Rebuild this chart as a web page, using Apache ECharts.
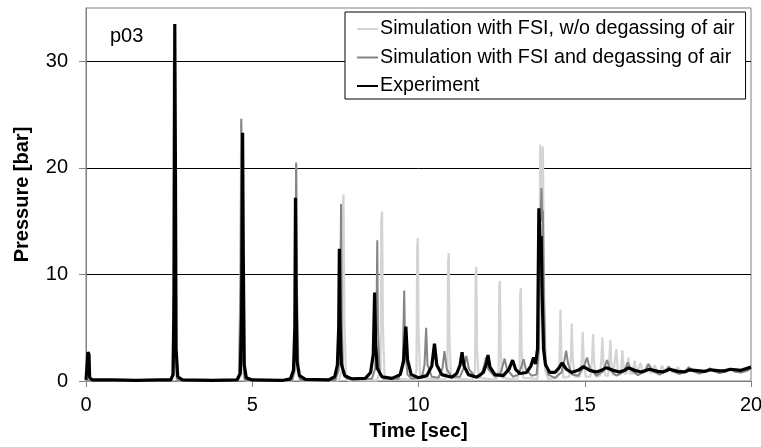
<!DOCTYPE html>
<html>
<head>
<meta charset="utf-8">
<script src="https://cdn.jsdelivr.net/npm/echarts@6/dist/echarts.min.js"></script>
<style>
  html, body { margin: 0; padding: 0; background: #fff; }
  #main { width: 761px; height: 447px; }
</style>
</head>
<body>
<div id="main"></div>
<script>
// 系列名称
var seriesNames = ['Simulation with FSI, w/o degassing of air', 'Simulation with FSI and degassing of air', 'Experiment'];
var yTicks = [0, 10, 20, 30];
var xTicks = [0, 5, 10, 15, 20];

// 无脱气仿真 [时间, 压力]
var simNoDegas = [[0,0.05],[2.55,0.05],[2.62,1],[2.64,30],[2.66,15],[2.7,0.5],[2.74,0.05],[4.55,0.05],[4.64,1],[4.665,24.3],[4.69,8],[4.74,0.3],[4.78,0.05],
  [6.2,0.05],[6.3,1],[6.325,20.3],[6.35,8],[6.4,0.3],[6.45,0.05],[7.6,0.05],[7.7,1],[7.72,16],[7.745,17.5],[7.77,6],[7.82,0.3],[7.86,0.05],
  [8.75,0.05],[8.86,1],[8.88,15],[8.905,15.9],[8.93,5],[8.98,0.3],[9.85,0.1],[9.94,1],[9.96,12.5],[9.98,13.4],[10.0,5],[10.05,0.3],
  [10.8,0.1],[10.87,1],[10.89,11],[10.91,12.0],[10.93,4],[10.98,0.3],[11.62,0.1],[11.7,1],[11.72,10],[11.74,10.7],[11.76,3],[11.81,0.3],
  [12.33,0.1],[12.41,1],[12.43,9],[12.45,9.4],[12.47,3],[12.52,0.3],[12.96,0.1],[13.04,1],[13.06,8.3],[13.08,8.7],[13.1,3],[13.15,0.3],
  [13.58,0.2],[13.63,3],[13.66,22.2],[13.7,18],[13.74,22],[13.77,12],[13.81,1],[13.9,0.2],
  [14.18,0.3],[14.24,2],[14.27,6.7],[14.3,2],[14.36,0.3],[14.53,0.4],[14.58,2],[14.61,5.4],[14.64,2],[14.7,0.4],
  [14.86,0.4],[14.91,2],[14.94,4.6],[14.97,1.8],[15.03,0.4],[15.17,0.4],[15.22,2],[15.25,4.4],[15.28,1.8],[15.34,0.4],
  [15.46,0.5],[15.5,2],[15.53,4.1],[15.56,1.8],[15.62,0.5],[15.7,0.5],[15.74,2],[15.77,3.85],[15.8,1.6],[15.85,0.5],
  [15.9,0.6],[15.95,3.0],[16.0,0.6],[16.08,0.6],[16.13,2.9],[16.18,0.7],[16.26,0.7],[16.31,2.2],[16.36,0.7],
  [16.44,0.7],[16.5,1.9],[16.56,0.7],[16.62,0.8],[16.68,1.7],[16.74,0.8],[16.82,0.8],[16.88,1.6],[16.96,0.8],
  [17.04,0.8],[17.1,1.5],[17.18,0.8],[17.26,0.8],[17.32,1.45],[17.4,0.85],[17.48,0.85],[17.54,1.4],[17.62,0.85],
  [17.72,0.9],[17.8,1.3],[17.9,0.9],[18.05,0.9],[18.15,1.2],[18.3,0.9],[18.6,0.95],[18.8,1.1],[19.1,0.95],[19.4,1.05],[19.7,1.0],[20,1.15]];

// 有脱气仿真
var simDegas = [[0,0.05],[2.5,0.05],[2.6,0.5],[2.63,10],[2.645,30.4],[2.66,20],[2.69,2],[2.75,0.05],
  [4.5,0.05],[4.6,0.6],[4.65,10],[4.67,24.6],[4.69,15],[4.72,2],[4.78,0.1],
  [6.2,0.1],[6.27,1],[6.3,10],[6.32,20.5],[6.34,10],[6.37,1],[6.45,0.1],
  [7.5,0.1],[7.6,1],[7.65,8],[7.67,16.6],[7.69,6],[7.73,0.8],[7.85,0.2],
  [8.6,0.2],[8.7,1.2],[8.74,7],[8.76,13.2],[8.78,5],[8.83,0.8],[8.95,0.2],
  [9.4,0.2],[9.5,1.5],[9.53,2],[9.57,8.5],[9.6,3],[9.67,0.6],[9.8,0.2],
  [10.1,0.3],[10.18,1.5],[10.23,5.0],[10.27,1.5],[10.4,0.4],[10.6,0.3],[10.72,1.2],[10.78,2.8],[10.85,1.1],[11.0,0.4],
  [11.25,0.4],[11.37,1.3],[11.44,2.35],[11.52,1.1],[11.7,0.4],[11.88,0.5],[11.97,1.4],[12.03,2.2],[12.1,1.1],[12.3,0.4],
  [12.45,0.6],[12.53,1.4],[12.59,2.1],[12.66,1.1],[12.85,0.4],[13.0,0.6],[13.1,1.4],[13.16,2.05],[13.23,1.1],[13.4,0.5],
  [13.55,0.6],[13.62,3],[13.66,14],[13.7,18.1],[13.72,15],[13.74,16],[13.77,8],[13.82,2],[13.9,0.6],
  [14.1,0.3],[14.3,0.8],[14.38,1.8],[14.44,2.85],[14.5,1.6],[14.62,0.6],[14.8,0.5],[14.97,1.3],[15.07,2.2],[15.15,1.2],
  [15.35,0.5],[15.55,0.9],[15.67,1.97],[15.77,1.0],[15.95,0.5],[16.18,0.9],[16.29,1.75],[16.4,1.0],[16.6,0.55],
  [16.8,0.9],[16.92,1.6],[17.05,0.9],[17.25,0.6],[17.42,0.9],[17.52,1.35],[17.65,0.9],[17.85,0.65],[18.02,0.9],[18.13,1.3],
  [18.26,0.9],[18.45,0.7],[18.64,0.9],[18.76,1.2],[18.9,0.9],[19.05,0.75],[19.25,0.9],[19.37,1.15],[19.5,0.9],[19.7,0.8],[19.88,0.95],[20,1.2]];

// 实验
var experiment = [[0,0.1],[0.04,0.2],[0.06,2.7],[0.09,2.5],[0.11,0.3],[0.2,0.1],[0.8,0.1],[1.5,0.05],[2.2,0.1],[2.55,0.1],
  [2.62,0.6],[2.65,8],[2.67,33.5],[2.69,20],[2.71,3],[2.76,0.4],[2.9,0.1],[3.8,0.05],
  [4.55,0.1],[4.64,0.7],[4.68,6],[4.71,23.3],[4.73,12],[4.76,1.5],[4.82,0.3],[5.0,0.1],[5.9,0.05],
  [6.15,0.2],[6.24,1],[6.28,5],[6.3,17.2],[6.32,8],[6.35,1.8],[6.42,0.5],[6.6,0.15],[7.3,0.1],
  [7.48,0.4],[7.56,1.5],[7.6,5],[7.62,12.4],[7.645,5],[7.68,1.6],[7.78,0.5],[8.0,0.2],
  [8.4,0.25],[8.56,0.8],[8.64,2.5],[8.68,8.3],[8.71,3.5],[8.76,1.2],[8.9,0.4],[9.2,0.25],
  [9.45,0.6],[9.55,1.8],[9.62,5.1],[9.67,2],[9.78,0.6],[10.0,0.3],
  [10.25,0.5],[10.4,1.4],[10.48,3.5],[10.55,1.5],[10.7,0.6],[11.0,0.35],
  [11.15,0.7],[11.25,1.5],[11.31,2.7],[11.37,1.4],[11.5,0.6],[11.75,0.35],
  [11.95,0.8],[12.05,1.7],[12.09,2.45],[12.15,1.3],[12.3,0.6],[12.55,0.5],
  [12.72,1.1],[12.83,1.95],[12.92,1.1],[13.05,0.7],[13.25,0.8],[13.38,1.4],[13.46,2.2],[13.52,1.6],
  [13.58,3],[13.62,16.2],[13.66,13],[13.69,13.6],[13.72,8],[13.76,3],[13.82,1.5],[13.95,0.8],
  [14.1,0.8],[14.22,1.2],[14.32,1.7],[14.45,1.1],[14.6,0.8],[14.8,1.0],[14.96,1.35],[15.15,1.0],[15.35,0.85],
  [15.5,1.0],[15.65,1.25],[15.85,1.0],[16.05,0.85],[16.2,1.0],[16.31,1.25],[16.5,1.0],[16.7,0.85],
  [16.94,1.1],[17.2,0.9],[17.35,0.85],[17.55,1.1],[17.8,0.9],[18.0,0.85],[18.15,1.05],[18.45,0.95],[18.6,0.9],
  [18.78,1.05],[19.05,0.95],[19.2,0.95],[19.38,1.1],[19.7,1.0],[20,1.3]];

var font = 'Liberation Sans, Arial, sans-serif';
var myChart = echarts.init(document.getElementById('main'));

var option = {
    animation: false,
    grid: {
        left: 86, right: 10, top: 8, bottom: 66,
        outerBoundsMode: 'none',
        containLabel: false,
        show: true, borderColor: '#808080', borderWidth: 1
    },
    graphic: [{
        type: 'text', left: 110, top: 26,
        style: { text: 'p03', font: '20px ' + font, fill: '#000' }
    }],
    legend: {
        orient: 'vertical',
        left: 345, top: 12,
        padding: [7, 11, 3, 12],
        itemGap: 8.5,
        itemWidth: 21,
        itemHeight: 2,
        icon: 'rect',
        borderColor: '#000',
        borderWidth: 1,
        backgroundColor: '#fff',
        textStyle: { fontFamily: font, fontSize: 19.7, color: '#000', padding: [0, 0, 0, -3] },
        data: seriesNames
    },
    xAxis: {
        type: 'value',
        min: xTicks[0], max: xTicks[xTicks.length - 1], interval: 5,
        name: 'Time [sec]', nameLocation: 'middle', nameGap: 40,
        nameTextStyle: { fontFamily: font, fontSize: 20, fontWeight: 'bold', color: '#000' },
        axisLine: { lineStyle: { color: '#808080' } },
        axisTick: { inside: false, length: 6, lineStyle: { color: '#808080' } },
        axisLabel: { fontFamily: font, fontSize: 20, color: '#000', margin: 14 },
        splitLine: { show: false }
    },
    yAxis: {
        type: 'value',
        min: yTicks[0], max: 35, interval: 10,
        name: 'Pressure [bar]', nameLocation: 'middle', nameGap: 54,
        nameTextStyle: { fontFamily: font, fontSize: 20, fontWeight: 'bold', color: '#000' },
        axisLine: { show: true, lineStyle: { color: '#808080' } },
        axisTick: { show: true, inside: false, length: 7, lineStyle: { color: '#808080' } },
        axisLabel: { fontFamily: font, fontSize: 20, color: '#000', margin: 18, showMaxLabel: false },
        splitLine: { show: true, showMinLine: false, showMaxLine: false, lineStyle: { color: '#000', width: 1 } }
    },
    series: [{
        name: seriesNames[0], type: 'line', data: simNoDegas,
        symbol: 'none', z: 2,
        lineStyle: { color: '#d4d4d4', width: 2.2 }, itemStyle: { color: '#d4d4d4' }
    }, {
        name: seriesNames[1], type: 'line', data: simDegas,
        symbol: 'none', z: 3,
        lineStyle: { color: '#858585', width: 2 }, itemStyle: { color: '#858585' }
    }, {
        name: seriesNames[2], type: 'line', data: experiment,
        symbol: 'none', z: 4,
        lineStyle: { color: '#000', width: 3.2 }, itemStyle: { color: '#000' }
    }]
};
myChart.setOption(option);
</script>
</body>
</html>
